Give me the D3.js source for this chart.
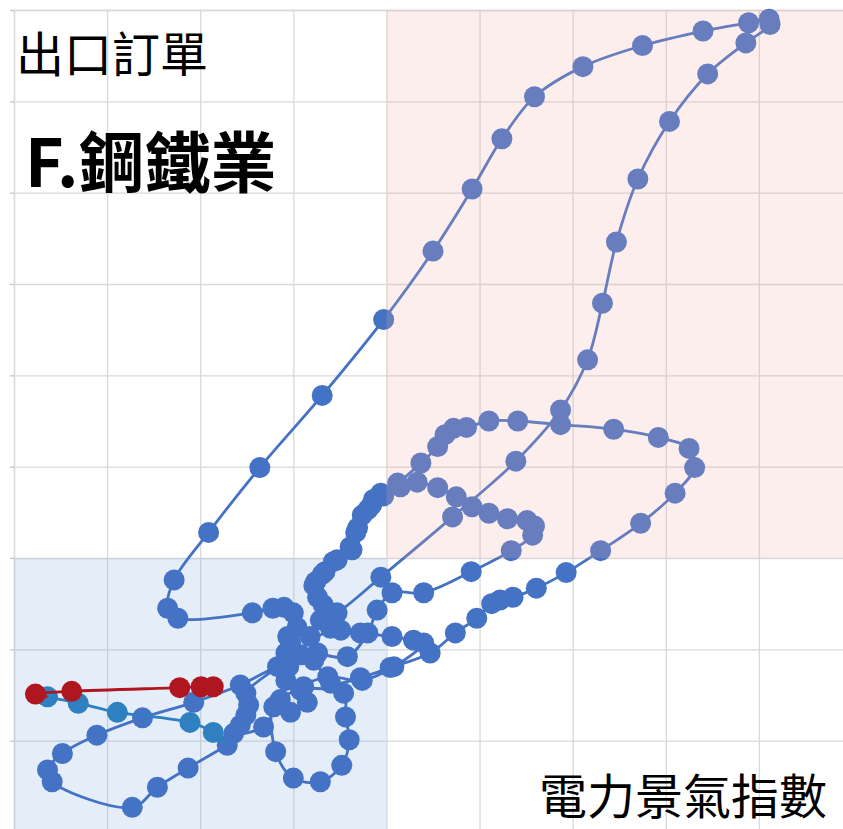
<!DOCTYPE html>
<html>
<head>
<meta charset="utf-8">
<script src="https://cdn.jsdelivr.net/npm/d3@7"></script>
<style>
  body { margin: 0; background: #fff; }
  #plot { width: 843px; height: 829px; overflow: hidden; }
  #plot text { font-family: "Noto Sans CJK TC", "Noto Sans", sans-serif; fill: #000; }
</style>
</head>
<body>
<div id="plot"></div>
<script>

// grid values (x: 電力景氣指數, y: 出口訂單), quadrant split at 0
var xTicks = [-4, -3, -2, -1, 0, 1, 2, 3, 4, 5];
var yTicks = [-3, -2, -1, 0, 1, 2, 3, 4, 5, 6];

// older months in grid units
var mainSeries = [
    [-1.08,-1.34],[-1.05,-1.19],[-1.08,-1.04],[-1.06,-0.86],[-0.96,-0.76],[-1.00,-0.60],
    [-1.10,-0.54],[-1.22,-0.55],[-1.44,-0.60],[-2.24,-0.66],[-2.35,-0.55],[-2.28,-0.24],
    [-1.91,0.28],[-1.36,0.99],[-0.69,1.78],[-0.03,2.61],[0.50,3.36],[0.92,4.04],
    [1.24,4.59],[1.59,5.05],[2.11,5.38],[2.75,5.61],[3.40,5.77],[3.89,5.86],
    [4.11,5.90],[4.12,5.84],[3.86,5.64],[3.45,5.30],[3.04,4.78],[2.70,4.15],
    [2.47,3.46],[2.32,2.79],[2.16,2.17],[1.87,1.62],[1.39,1.06],[0.71,0.45],
    [-0.06,-0.21],[-0.53,-0.60],
    [-0.71,-0.68],[-0.82,-0.86],[-0.60,-0.77],[-0.74,-0.43],[-0.76,-0.26],[-0.66,-0.15],
    [-0.53,-0.02],[-0.39,0.12],[-0.31,0.33],[-0.20,0.53],[-0.14,0.64],[-0.06,0.71],
    [0.12,0.82],[0.37,1.04],[0.55,1.22],[0.63,1.35],[0.72,1.42],[0.86,1.43],
    [1.10,1.50],[1.41,1.50],[1.87,1.46],[2.44,1.41],[2.92,1.32],[3.25,1.20],
    [3.31,0.99],[3.10,0.71],[2.73,0.38],[2.30,0.08],[1.93,-0.16],[1.61,-0.33],
    [1.36,-0.43],[1.22,-0.46],[1.13,-0.50],[0.97,-0.66],[0.74,-0.82],[0.47,-1.04],
    [0.04,-1.20],[-0.28,-1.31],[-0.60,-1.37],
    [-0.78,-1.12],[-0.92,-1.06],[-1.03,-0.93],[-0.74,-1.04],[-0.42,-1.08],[-0.20,-0.82],
    [-0.10,-0.57],[0.06,-0.38],[0.40,-0.38],[0.91,-0.15],[1.34,0.08],[1.57,0.25],
    [1.59,0.35],[1.51,0.41],[1.30,0.43],[1.10,0.49],[0.92,0.56],[0.75,0.67],
    [0.55,0.77],[0.33,0.83],[0.15,0.78],[-0.03,0.68],[-0.16,0.58],[-0.26,0.47],
    [-0.33,0.28],[-0.37,0.09],[-0.57,-0.04],[-0.69,-0.18],[-0.78,-0.30],[-0.68,-0.51],
    [-0.49,-0.79],[-0.28,-0.82],[0.06,-0.86],[0.29,-0.90],[0.40,-0.93],[0.08,-1.19],
    [-0.26,-1.34],[-0.63,-1.30],[-0.89,-1.41],
    [-0.46,-1.48],[-0.44,-1.74],[-0.40,-1.99],[-0.48,-2.27],[-0.71,-2.45],[-1.00,-2.41],
    [-1.19,-2.12],[-1.21,-1.63],[-1.03,-1.69],[-0.85,-1.58],[-0.92,-1.45],[-1.14,-1.55],
    [-1.32,-1.85],[-1.64,-1.92],[-1.57,-1.83],[-1.51,-1.72],[-1.48,-1.61],[-1.51,-1.48],
    [-1.17,-1.19],[-1.57,-1.39],[-2.07,-1.58],[-2.62,-1.75],[-3.11,-1.94],[-3.48,-2.14],
    [-3.64,-2.32],[-3.59,-2.45],[-2.73,-2.73],[-2.46,-2.51],[-2.13,-2.30],[-1.71,-2.05]
];

// previous year
var tealSeries = [[-1.86,-1.91],[-2.11,-1.80],[-2.89,-1.69],[-3.31,-1.59],[-3.64,-1.52]];

// latest months
var redSeries = [[-3.77,-1.49],[-3.38,-1.46],[-2.22,-1.42],[-1.99,-1.41],[-1.86,-1.41]];

var width = 843, height = 829;

var x = d3.scaleLinear().domain([-4, 5]).range([14, 852]);
var y = d3.scaleLinear().domain([-3, 6]).range([832, 10]);

var svg = d3.select("#plot").append("svg")
    .attr("width", width)
    .attr("height", height);

// grid lines from the axes
svg.append("g")
    .attr("class", "grid")
    .attr("transform", "translate(" + x(-4) + ",0)")
    .call(d3.axisLeft(y).tickValues(yTicks).tickFormat("")
	  .tickSize(-(x(5) - x(-4))).tickSizeOuter(0));
svg.append("g")
    .attr("class", "grid")
    .attr("transform", "translate(0," + y(6) + ")")
    .call(d3.axisTop(x).tickValues(xTicks).tickFormat("")
	  .tickSize(-(y(-3) - y(6))).tickSizeOuter(0));
svg.selectAll(".grid line").style("stroke", "#d9d9d9").style("stroke-width", 1.3);
svg.selectAll(".grid path").style("stroke", "#d9d9d9").style("stroke-width", 1.3);

// small outside ticks on the left
svg.append("g")
    .attr("class", "ticks")
    .attr("transform", "translate(" + x(-4) + ",0)")
    .call(d3.axisLeft(y).tickValues(yTicks).tickFormat("").tickSize(4).tickSizeOuter(0))
    .call(function(g) {
	g.select(".domain").remove();
	g.selectAll("line").style("stroke", "#c8c8c8").style("stroke-width", 1.3);
    });

// low-low quadrant, under the marks
svg.append("rect")
    .attr("x", x(-4)).attr("y", y(0))
    .attr("width", x(0) - x(-4)).attr("height", y(-3) - y(0))
    .style("fill", "rgb(125,165,220)").style("fill-opacity", 0.2);

var line = d3.line()
    .x(function(d) { return x(d[0]); })
    .y(function(d) { return y(d[1]); })
    .curve(d3.curveCatmullRom.alpha(0.5));

function drawSeries(pts, joinFrom, color) {
    var path = joinFrom ? [joinFrom].concat(pts) : pts;
    svg.append("path")
	.datum(path)
	.attr("d", line)
	.style("fill", "none")
	.style("stroke", color)
	.style("stroke-width", 2.8);
    svg.append("g").selectAll("circle")
	.data(pts)
	.enter().append("circle")
	.attr("cx", function(d) { return x(d[0]); })
	.attr("cy", function(d) { return y(d[1]); })
	.attr("r", 10.5)
	.style("fill", color);
}

drawSeries(mainSeries, null, "#4472c4");
drawSeries(tealSeries, mainSeries[mainSeries.length - 1], "#2e80c0");
drawSeries(redSeries, tealSeries[tealSeries.length - 1], "#b0161f");

// high-high quadrant, laid over the marks
svg.append("rect")
    .attr("x", x(0)).attr("y", y(6))
    .attr("width", x(5) - x(0)).attr("height", y(0) - y(6))
    .style("fill", "rgb(245,170,170)").style("fill-opacity", 0.2);

// labels
svg.append("text")
    .attr("x", 16).attr("y", 72)
    .style("font-size", "48px")
    .text("出口訂單");
svg.append("text")
    .attr("x", 25).attr("y", 187)
    .style("font-size", "66px")
    .style("font-weight", "bold")
    .text("F.鋼鐵業");
svg.append("text")
    .attr("x", 827).attr("y", 814)
    .attr("text-anchor", "end")
    .style("font-size", "48px")
    .text("電力景氣指數");

</script>
</body>
</html>
